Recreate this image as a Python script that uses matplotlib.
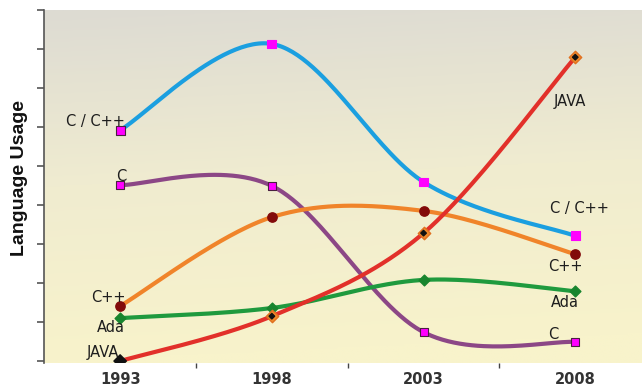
import numpy as np
import matplotlib.pyplot as plt
from matplotlib.colors import LinearSegmentedColormap

years = [1993, 1998, 2003, 2008]

c_cpp = [5.92, 8.13, 4.59, 3.21]
c_lang = [4.51, 4.49, 0.74, 0.49]
cpp = [1.41, 3.69, 3.85, 2.74]
ada = [1.10, 1.36, 2.08, 1.79]
java = [0.0, 1.15, 3.28, 7.79]

# label text, offset (px) at first point, offset (px) at last point
labels_c_cpp = ('C / C++', (-25, 9), (4, 27))
labels_c = ('C', (1, 9), (-22, 7))
labels_cpp = ('C++', (-12, 9), (-10, -12))
labels_ada = ('Ada', (-9, -9), (-10, -11))
labels_java = ('JAVA', (-17, 9), (-5, -44))


def smooth(x, y, n=60):
    # Catmull-Rom curve through the points (like a spreadsheet "smoothed line")
    x = np.asarray(x, float)
    y = np.asarray(y, float)
    px = np.concatenate([[x[0]], x, [x[-1]]])
    py = np.concatenate([[y[0]], y, [y[-1]]])
    t = np.linspace(0, 1, n)
    h00 = 2 * t**3 - 3 * t**2 + 1
    h10 = t**3 - 2 * t**2 + t
    h01 = -2 * t**3 + 3 * t**2
    h11 = t**3 - t**2
    xs, ys = [], []
    for i in range(1, len(x)):
        mx0 = (px[i + 1] - px[i - 1]) / 2
        mx1 = (px[i + 2] - px[i]) / 2
        my0 = (py[i + 1] - py[i - 1]) / 2
        my1 = (py[i + 2] - py[i]) / 2
        xs.append(h00 * px[i] + h10 * mx0 + h01 * px[i + 1] + h11 * mx1)
        ys.append(h00 * py[i] + h10 * my0 + h01 * py[i + 1] + h11 * my1)
    return np.concatenate(xs), np.concatenate(ys)


label_font = 'DejaVu Sans'

fig = plt.figure(figsize=(6.42, 3.88), dpi=100)
ax = fig.add_axes([44 / 642, 25 / 388, 598 / 642, 353 / 388])
ax.set_xlim(1990.49, 2010.2)
ax.set_ylim(-0.05, 9.0)

# background gradient, grey at the top fading into cream
cmap = LinearSegmentedColormap.from_list('bg', ['#f8f3cb', '#f0ecd0', '#dddbd3'])
grad = np.linspace(0, 1, 256).reshape(-1, 1)
grad = grad + np.linspace(0, -0.08, 64).reshape(1, -1)
ax.imshow(grad, cmap=cmap, origin='lower', extent=(0, 1, 0, 1),
          transform=ax.transAxes, aspect='auto', zorder=0, vmin=0, vmax=1)

lw = 3.0
xs, ys = smooth(years, c_cpp)
ax.plot(xs, ys, color='#1b9fe0', lw=lw, zorder=3, solid_capstyle='round')
xs, ys = smooth(years, c_lang)
ax.plot(xs, ys, color='#8c4786', lw=lw, zorder=3, solid_capstyle='round')
xs, ys = smooth(years, cpp)
ax.plot(xs, ys, color='#f0842a', lw=lw, zorder=3, solid_capstyle='round')
xs, ys = smooth(years, ada)
ax.plot(xs, ys, color='#1f9a3e', lw=lw, zorder=3, solid_capstyle='round')
xs, ys = smooth(years, java)
ax.plot(xs, ys, color='#e2302a', lw=lw, zorder=3, solid_capstyle='round')

# markers
ax.scatter(years, c_cpp, marker='s', s=40, c='#ff00ff',
           edgecolors=['#4a2040', '#ff00ff', '#ff00ff', '#ff00ff'], linewidths=0.8, zorder=5)
ax.scatter(years, c_lang, marker='s', s=36, c='#ff00ff', edgecolors='#4a2040',
           linewidths=0.8, zorder=5)
ax.scatter(years, cpp, marker='o', s=45, c='#820a0a', edgecolors='#820a0a', zorder=5)
ax.scatter(years, ada, marker='D', s=30, c='#18852e', edgecolors='#18852e', zorder=5)
ax.scatter(years[1:], java[1:], marker='D', s=40, c='#f08a2a', edgecolors='#e07020', zorder=5)
ax.scatter(years, java, marker='D', s=[40, 8, 8, 8], c='#111111', zorder=6)

# series labels at both ends
for vals, (txt, off0, off1) in [(c_cpp, labels_c_cpp), (c_lang, labels_c),
                                 (cpp, labels_cpp), (ada, labels_ada),
                                 (java, labels_java)]:
    ax.annotate(txt, (years[0], vals[0]), xytext=off0, textcoords='offset pixels',
                ha='center', va='center', fontsize=10.5, family=label_font,
                color='#1e1e1e', zorder=7)
    ax.annotate(txt, (years[-1], vals[-1]), xytext=off1, textcoords='offset pixels',
                ha='center', va='center', fontsize=10.5, family=label_font,
                color='#1e1e1e', zorder=7)

# axes styling
for s in ['top', 'right', 'bottom']:
    ax.spines[s].set_visible(False)
ax.spines['left'].set_color('#555555')
ax.spines['left'].set_linewidth(1.2)
ax.set_yticks(range(10))
ax.set_yticklabels([])
ax.tick_params(axis='y', length=5, width=1.2, color='#555555')

ax.set_xticks(years)
ax.set_xticklabels([str(y) for y in years], fontsize=10.5, family=label_font,
                   fontweight='bold', color='#333333')
ax.set_xticks([1995.5, 2000.5, 2005.5, 2008], minor=True)
ax.tick_params(axis='x', which='major', length=0, pad=6.5)
ax.tick_params(axis='x', which='minor', length=3.5, width=1, color='#444444')

fig.text(20 / 642, 1 - 178 / 388, 'Language Usage', rotation=90, ha='center',
         va='center', fontsize=14, fontweight='bold', family='Liberation Sans',
         color='#111111')

fig.savefig('out.png', dpi=100)
